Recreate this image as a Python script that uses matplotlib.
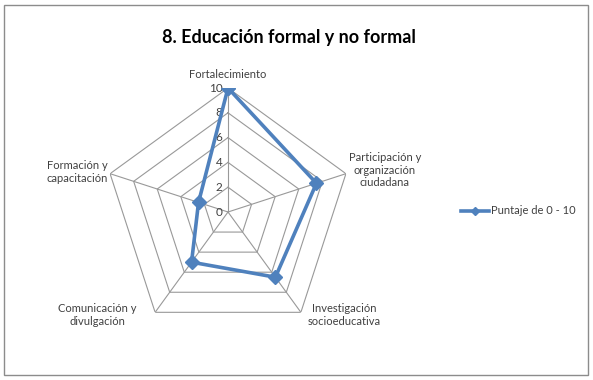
import numpy as np
import matplotlib.pyplot as plt
from matplotlib.patches import Rectangle

# Data
categories = ['Fortalecimiento', 'Participación y\norganización\nciudadana',
              'Investigación\nsocioeducativa', 'Comunicación y\ndivulgación',
              'Formación y\ncapacitación']
scores = [10, 7.5, 6.5, 5, 2.5]
ring_values = [0, 2, 4, 6, 8, 10]
series_name = 'Puntaje de 0 - 10'
title = '8. Educación formal y no formal'

blue = '#4F81BD'
grid_gray = '#999999'

plt.rcParams['font.family'] = ['Lato', 'DejaVu Sans']

fig = plt.figure(figsize=(5.93, 3.80), dpi=100)
fig.patches.append(Rectangle((4 / 593, 5 / 380), 584 / 593, 370 / 380,
                             transform=fig.transFigure, fill=False,
                             edgecolor='#8C8C8C', linewidth=1.0))

# center (228, 212) px, radius 124 px
cx, cy, rad = 228, 212, 124
ax = fig.add_axes([(cx - rad) / 593, (380 - cy - rad) / 380, 2 * rad / 593, 2 * rad / 380],
                  projection='polar')
ax.set_theta_offset(np.pi / 2)
ax.set_theta_direction(-1)
ax.set_ylim(0, 10)
ax.grid(False)
ax.spines['polar'].set_visible(False)
ax.set_xticks([])
ax.set_yticks([])
ax.patch.set_alpha(0)

n = len(categories)
theta = np.linspace(0, 2 * np.pi, n, endpoint=False)
theta_closed = np.append(theta, theta[0])

# polygon rings and spokes
for v in ring_values[1:]:
    ax.plot(theta_closed, [v] * (n + 1), color=grid_gray, linewidth=0.8, zorder=1)
for t in theta:
    ax.plot([t, t], [0, 10], color=grid_gray, linewidth=0.8, zorder=1)

# radial tick labels
for v in ring_values:
    ax.annotate(str(v), xy=(0, v), xytext=(-4, 0), textcoords='offset points',
                ha='right', va='center', fontsize=8.5, color='#404040')

# series
scores_closed = scores + scores[:1]
line, = ax.plot(theta_closed, scores_closed, color=blue, linewidth=2.6,
                marker='D', markersize=7, zorder=3, label=series_name)

# category labels
label_pos = [(228, 75, 'center'), (385, 170, 'center'), (344, 315, 'center'),
             (97, 315, 'center'), (77, 172, 'center')]
for name, (x, y, ha) in zip(categories, label_pos):
    fig.text(x / 593, 1 - y / 380, name, ha=ha, va='center', fontsize=8,
             color='#404040', linespacing=1.15, multialignment='center')

fig.text(289 / 593, 1 - 37 / 380, title, ha='center', va='center',
         fontsize=13, fontweight='bold', color='black')

fig.legend(handles=[line], loc='center left', bbox_to_anchor=(451 / 593, 1 - 211 / 380),
           frameon=False, fontsize=8, handlelength=2.5, handletextpad=0.2,
           markerscale=0.55, labelcolor='#404040')

fig.savefig('out.png', dpi=100)
